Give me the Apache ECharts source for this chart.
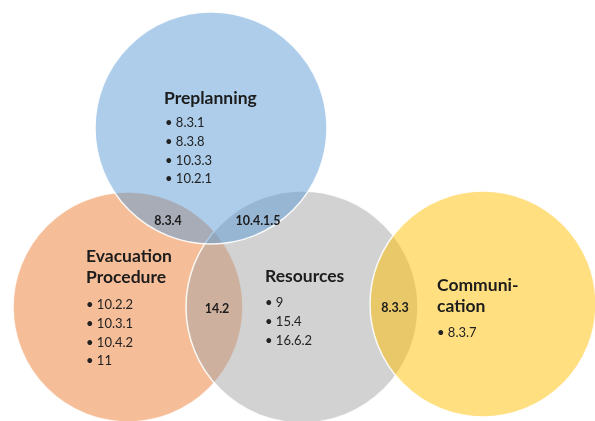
<!DOCTYPE html>
<html>
<head>
<meta charset="utf-8">
<script src="https://cdn.jsdelivr.net/npm/echarts@6/dist/echarts.min.js"></script>
<style>html,body{margin:0;padding:0;background:#fff}#c{width:595px;height:421px}</style>
</head>
<body>
<div id="c"></div>
<script>
// ---- data ----
const setNames = ['Evacuation\nProcedure', 'Resources', 'Preplanning', 'Communi-\ncation'];
const setItems = [
  ['10.2.2', '10.3.1', '10.4.2', '11'],
  ['9', '15.4', '16.6.2'],
  ['8.3.1', '8.3.8', '10.3.3', '10.2.1'],
  ['8.3.7']
];
const overlapLabels = ['8.3.4', '10.4.1.5', '14.2', '8.3.3'];
const setColors = ['rgba(237,125,49,0.5)', 'rgba(165,165,165,0.5)', 'rgba(91,155,213,0.5)', 'rgba(255,192,0,0.5)'];

// ---- layout (axis units = pixels of the 595x421 canvas) ----
const circleLayout = [[128, 307, 115], [302, 307, 116], [211, 128, 116], [483, 304, 113]];
const titleLayout = [[86, 257], [265, 277], [164, 99], [437, 286]];
const itemLayout = [[86, 305], [265, 303], [165, 123], [437, 333]];
const overlapLayout = [[168, 221], [258, 221], [217, 309], [395, 308]];

const FONT = 'Lato, "Open Sans", sans-serif';

const circleData = circleLayout.map((c, i) => [c[0], c[1], c[2], i]);
const titleData = titleLayout.map((p, i) => [p[0], p[1], i]);
const itemData = itemLayout.map((p, i) => [p[0], p[1], i]);
const overlapData = overlapLayout.map((p, i) => [p[0], p[1], i]);

const chart = echarts.init(document.getElementById('c'), null, {renderer: 'canvas'});
chart.setOption({
  animation: false,
  grid: {left: 0, right: 0, top: 0, bottom: 0},
  xAxis: {type: 'value', min: 0, max: 595, show: false},
  yAxis: {type: 'value', min: 0, max: 421, inverse: true, show: false},
  series: [
    {
      type: 'custom',
      data: circleData,
      renderItem: function (params, api) {
        const c = api.coord([api.value(0), api.value(1)]);
        const r = api.size([api.value(2), 0])[0];
        return {
          type: 'circle',
          shape: {cx: c[0], cy: c[1], r: r},
          style: {fill: setColors[api.value(3)], stroke: 'rgba(255,255,255,0.9)', lineWidth: 1.5}
        };
      },
      z: 1
    },
    {
      type: 'custom',
      data: titleData,
      renderItem: function (params, api) {
        const c = api.coord([api.value(0), api.value(1)]);
        return {
          type: 'text',
          style: {
            x: c[0], y: c[1] - 10.5, text: setNames[api.value(2)],
            font: 'bold 17.5px ' + FONT, fill: '#1c1c1c', lineHeight: 20.5,
            textAlign: 'left', textVerticalAlign: 'top'
          }
        };
      },
      z: 3
    },
    {
      type: 'custom',
      data: itemData,
      renderItem: function (params, api) {
        const c = api.coord([api.value(0), api.value(1)]);
        const txt = setItems[api.value(2)].map(s => '\u2022 ' + s).join('\n');
        return {
          type: 'text',
          style: {
            x: c[0], y: c[1] - 9.4, text: txt,
            font: '13px ' + FONT, fill: '#222', lineHeight: 18.7,
            textAlign: 'left', textVerticalAlign: 'top'
          }
        };
      },
      z: 3
    },
    {
      type: 'custom',
      data: overlapData,
      renderItem: function (params, api) {
        const c = api.coord([api.value(0), api.value(1)]);
        return {
          type: 'text',
          style: {
            x: c[0], y: c[1], text: overlapLabels[api.value(2)],
            font: 'bold 12.5px ' + FONT, fill: '#1c1c1c',
            textAlign: 'center', textVerticalAlign: 'middle'
          }
        };
      },
      z: 3
    }
  ]
});
</script>
</body>
</html>
